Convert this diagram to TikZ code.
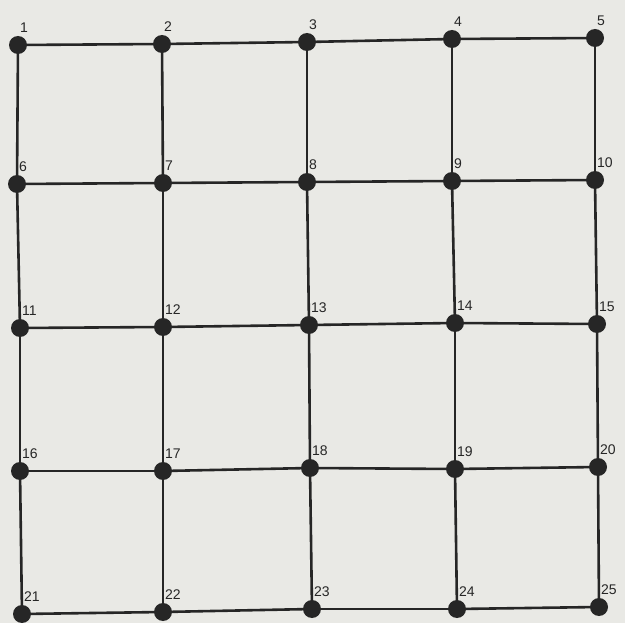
\documentclass[tikz,border=0pt]{standalone}
\usepackage{fontspec}
\setmainfont{Liberation Sans}
\definecolor{paper}{RGB}{233,233,229}
\definecolor{ink}{RGB}{38,38,38}
\begin{document}
\begin{tikzpicture}[x=1pt,y=-1pt,
  vtx/.style={circle,fill=ink,inner sep=0pt,minimum size=18pt},
  edge/.style={draw=ink,line width=2.6pt},
  lbl/.style={font=\fontsize{14}{14}\selectfont,text=ink,inner sep=0pt,anchor=south west}]
\fill[paper] (0,0) rectangle (625,623);
\useasboundingbox (0,0) rectangle (625,623);
% vertices
\foreach \n/\x/\y in {
 1/18/45, 2/162/44, 3/307/42, 4/452/39, 5/595/38,
 6/17/184, 7/163/183, 8/307/182, 9/452/181, 10/595/180,
 11/20/328, 12/163/327, 13/309/325, 14/455/323, 15/597/324,
 16/20/471, 17/163/471, 18/310/468, 19/455/469, 20/598/467,
 21/22/614, 22/163/612, 23/312/609, 24/457/609, 25/599/607}
 {\coordinate (c\n) at (\x,\y);}
% edges
\foreach \a/\b in {1/2,2/3,3/4,4/5,6/7,7/8,8/9,9/10,11/12,12/13,13/14,14/15,
 16/17,17/18,18/19,19/20,21/22,22/23,23/24,24/25,
 1/6,6/11,11/16,16/21,2/7,7/12,12/17,17/22,3/8,8/13,13/18,18/23,
 4/9,9/14,14/19,19/24,5/10,10/15,15/20,20/25}
 {\path[edge] (c\a) -- (c\b);}
\foreach \n in {1,...,25}
 {\node[vtx] (v\n) at (c\n) {};
  \node[lbl] (l\n) at ([xshift=2pt,yshift=12pt]c\n) {\n};}
\end{tikzpicture}
\end{document}
